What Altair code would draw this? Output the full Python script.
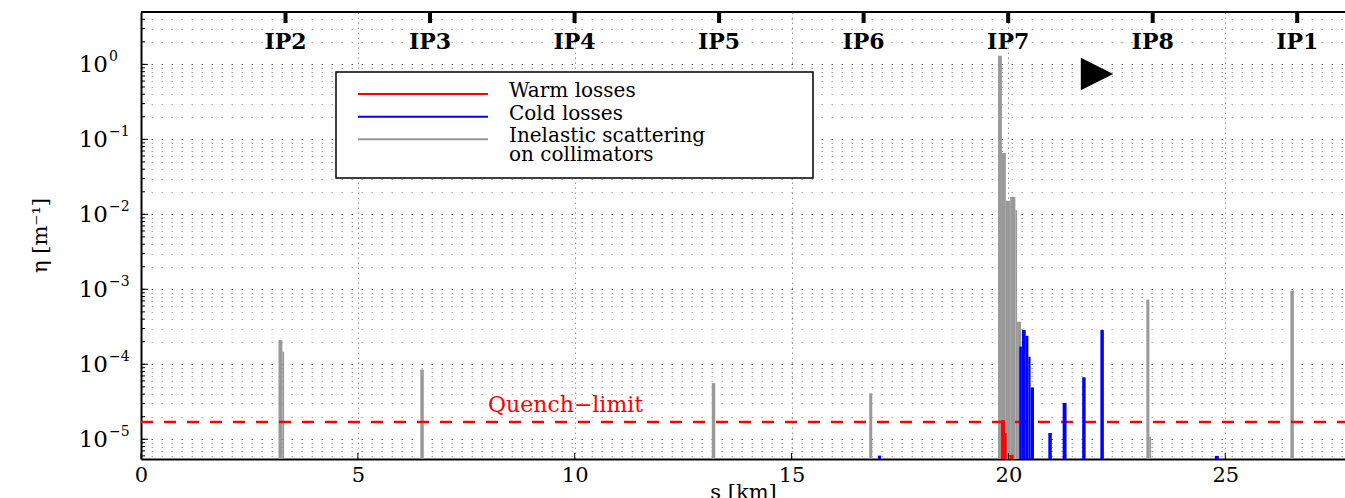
import altair as alt
import pandas as pd

# ---------------- data ----------------
gray_s0 = [3.17, 3.26, 6.44, 13.16, 16.79, 19.76, 19.85, 19.94, 20.04, 20.16, 20.20, 23.18, 23.25, 26.50]
gray_s1 = [3.26, 3.30, 6.52, 13.24, 16.86, 19.85, 19.94, 20.04, 20.16, 20.20, 20.29, 23.25, 23.29, 26.58]
gray_eta = [2.1e-4, 1.47e-4, 8.5e-5, 5.6e-5, 4.1e-5, 1.3, 0.066, 0.0152, 0.0172, 0.0114, 3.7e-4, 7.3e-4, 1.08e-5, 9.6e-4]

blue_s0 = [16.99, 20.25, 20.31, 20.40, 20.46, 20.51, 20.92, 21.25, 21.70, 22.12, 24.76]
blue_s1 = [17.06, 20.31, 20.40, 20.46, 20.51, 20.59, 21.00, 21.34, 21.78, 22.20, 24.85]
blue_eta = [6.05e-6, 1.72e-4, 2.86e-4, 2.4e-4, 1.26e-4, 4.9e-5, 1.21e-5, 3.05e-5, 6.7e-5, 2.86e-4, 6.0e-6]

red_s0 = [19.83, 19.92, 20.02]
red_s1 = [19.92, 19.96, 20.12]
red_eta = [1.8e-5, 1.2e-5, 6.2e-6]

quench_limit = 1.7e-5

ip_names = ["IP2", "IP3", "IP4", "IP5", "IP6", "IP7", "IP8", "IP1"]
ip_s = [3.332, 6.664, 9.997, 13.329, 16.661, 19.994, 23.326, 26.658]

x_ticks = [0, 5, 10, 15, 20, 25]
y_major = [1, 0.1, 0.01, 0.001, 1e-4, 1e-5]
y_exps = ["0", "\u22121", "\u22122", "\u22123", "\u22124", "\u22125"]

legend_labels = ["Warm losses", "Cold losses", "Inelastic scattering\non collimators"]
legend_colors = ["#ff0000", "#0000ff", "#999999"]

# ---------------- layout ----------------
W, H = 1204, 447
X_MAX = 27.76
Y_MIN, Y_MAX = 5.45e-6, 5.0
FONT = "DejaVu Serif"

xs = alt.Scale(domain=[0, X_MAX], nice=False, zero=False)
ys = alt.Scale(type="log", domain=[Y_MIN, Y_MAX], nice=False)

minor_vals = [k * 10.0 ** e for e in range(-6, 1) for k in range(1, 10)
              if Y_MIN <= k * 10.0 ** e <= Y_MAX]
is_major = "abs(log(datum.value)/LN10 - round(log(datum.value)/LN10)) < 1e-6"

y_axis = alt.Axis(values=minor_vals, labels=False, ticks=False, domain=True, domainColor="black",
                  domainWidth=2, title=None,
                  grid=True, gridDash=[1.5, 8.5], gridWidth=1,
                  gridColor={"condition": {"test": is_major, "value": "#555555"}, "value": "#a8a8a8"})
x_axis = alt.Axis(values=x_ticks, ticks=False, domain=True, domainColor="black", domainWidth=2,
                  grid=True, gridDash=[1.5, 3.5], labelFlush=False,
                  gridColor="#999999", labelFont=FONT, labelFontSize=21, labelColor="black",
                  labelPadding=5, title="s [km]", titleFont=FONT, titleFontSize=21,
                  titleFontWeight="normal", titleColor="black", titleY=22, titleBaseline="top")


def X(field):
    return alt.X(field, scale=xs, axis=x_axis)


def Y(field):
    return alt.Y(field, scale=ys, axis=y_axis)


gray_df = pd.DataFrame({"s0": gray_s0, "s1": gray_s1, "eta": gray_eta})
blue_df = pd.DataFrame({"s0": blue_s0, "s1": blue_s1, "eta": blue_eta})
red_df = pd.DataFrame({"s0": red_s0, "s1": red_s1, "eta": red_eta})


def bars(df, color):
    return alt.Chart(df).mark_rect(color=color, clip=True).encode(
        x=X("s0:Q"), x2="s1:Q", y=Y("eta:Q"), y2=alt.value(H))


gray = bars(gray_df, "#999999")
blue = bars(blue_df, "#0000ff")
red = bars(red_df, "#ff0000")

q_df = pd.DataFrame({"q": [quench_limit]})
quench = alt.Chart(q_df).mark_rule(
    color="#ff0000", strokeWidth=2.5, strokeDash=[12, 11]
).encode(x=alt.value(0), x2=alt.value(W), y=Y("q:Q"))

quench_text = alt.Chart(q_df).mark_text(
    text="Quench\u2212limit", font=FONT, fontSize=22, color="#ff0000", align="left",
    baseline="alphabetic", dx=347, dy=-10
).encode(x=alt.value(0), y=Y("q:Q"))

# inward ticks
xt_df = pd.DataFrame({"s": x_ticks})
xticks = alt.Chart(xt_df).mark_rule(color="black", strokeWidth=1).encode(
    x=X("s:Q"), y=alt.value(H - 6), y2=alt.value(H))
ym_df = pd.DataFrame({"v": minor_vals})
yticks_minor = alt.Chart(ym_df).mark_rule(color="black", strokeWidth=1).encode(
    y=Y("v:Q"), x=alt.value(0), x2=alt.value(4))
yl_df = pd.DataFrame({"v": y_major, "e": y_exps})
yticks_major = alt.Chart(yl_df).mark_rule(color="black", strokeWidth=1).encode(
    y=Y("v:Q"), x=alt.value(0), x2=alt.value(7))

# top frame line
one = pd.DataFrame({"a": [1]})
top_line = alt.Chart(one).mark_rule(color="black", strokeWidth=2).encode(
    x=alt.value(0), x2=alt.value(W), y=alt.value(0))

# y tick labels 10^k
ylab_base = alt.Chart(yl_df).mark_text(
    text="10", font=FONT, fontSize=23, align="right", baseline="alphabetic", dy=8, color="black"
).encode(y=Y("v:Q"), x=alt.value(-33))
ylab_exp = alt.Chart(yl_df).mark_text(
    font=FONT, fontSize=14, align="left", baseline="alphabetic", dy=-3, color="black"
).encode(y=Y("v:Q"), x=alt.value(-32), text="e:N")

y_title = alt.Chart(pd.DataFrame({"t": ["\u03b7 [m\u207b\u00b9]"]})).mark_text(
    font=FONT, fontSize=21, angle=270, align="center", baseline="middle", color="black"
).encode(x=alt.value(-100), y=alt.value(H / 2), text="t:N")

# IP markers on top
ip_df = pd.DataFrame({"name": ip_names, "s": ip_s})
ip_ticks = alt.Chart(ip_df).mark_rule(color="black", strokeWidth=4).encode(
    x=X("s:Q"), y=alt.value(0), y2=alt.value(11))
ip_text = alt.Chart(ip_df).mark_text(
    font=FONT, fontSize=22, fontWeight="bold", baseline="middle", align="center", color="black"
).encode(x=X("s:Q"), y=alt.value(30), text="name:N")

arrow = alt.Chart(one).mark_point(
    shape="M-1,-1L1,0L-1,1Z", filled=True, color="black", opacity=1, size=1050
).encode(x=alt.value(956), y=alt.value(62))

# legend (drawn from the legend arrays)
leg_box = alt.Chart(one).mark_rect(
    fill="white", stroke="black", strokeWidth=1.5
).encode(x=alt.value(195), x2=alt.value(672), y=alt.value(60), y2=alt.value(166))
leg_line_y = [82, 104.7, 127.3]
leg_layers = [leg_box]
for lab, col, ly in zip(legend_labels, legend_colors, leg_line_y):
    leg_layers.append(alt.Chart(one).mark_rule(strokeWidth=2, color=col).encode(
        x=alt.value(217), x2=alt.value(347), y=alt.value(ly)))
    leg_layers.append(alt.Chart(one).mark_text(
        text=lab.split("\n"), font=FONT, fontSize=20, align="left", baseline="alphabetic",
        lineHeight=19, color="black"
    ).encode(x=alt.value(368), y=alt.value(ly + 3)))

chart = alt.layer(
    gray, quench, blue, red,
    quench_text, xticks, yticks_minor, yticks_major, top_line, ylab_base, ylab_exp, y_title,
    ip_ticks, ip_text, arrow, *leg_layers
).properties(
    width=W, height=H,
    padding={"left": 141, "top": 12, "right": 0, "bottom": 39},
    autosize=alt.AutoSizeParams(type="none"),
    background="white",
).configure_view(stroke=None)

chart.save("out.html", embed_options={"renderer": "svg", "actions": False})
